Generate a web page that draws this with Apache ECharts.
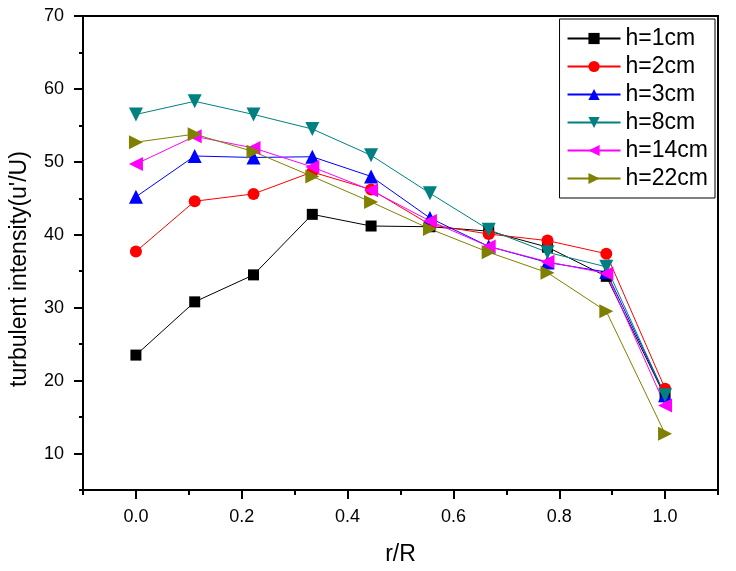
<!DOCTYPE html>
<html>
<head>
<meta charset="utf-8">
<script src="https://cdn.jsdelivr.net/npm/echarts@6/dist/echarts.min.js"></script>
<style>html,body{margin:0;padding:0;background:#fff;}#c{width:736px;height:571px;}</style>
</head>
<body>
<div id="c"></div>
<script>
var rR = [0, 0.1111, 0.2222, 0.3333, 0.4444, 0.5556, 0.6667, 0.7778, 0.8889, 1.0];
var h1 = [23.5, 30.8, 34.5, 42.8, 41.2, 41.1, 40.5, 38.3, 34.3, 17.8];
var h2 = [37.7, 44.6, 45.6, 48.6, 46.2, 41.4, 40.1, 39.2, 37.4, 18.9];
var h3 = [45.2, 50.8, 50.6, 50.7, 48.0, 42.3, 38.4, 36.2, 34.9, 18.0];
var h8 = [56.5, 58.3, 56.5, 54.5, 50.9, 45.7, 40.7, 37.6, 35.6, 18.0];
var h14 = [49.7, 53.5, 51.9, 49.3, 46.1, 41.9, 38.4, 36.3, 34.7, 16.6];
var h22 = [52.7, 53.8, 51.4, 48.0, 44.5, 40.8, 37.6, 34.8, 29.5, 12.7];
var seriesNames = ['h=1cm', 'h=2cm', 'h=3cm', 'h=8cm', 'h=14cm', 'h=22cm'];
var xMajorTicks = [0.0, 0.2, 0.4, 0.6, 0.8, 1.0];
var xMinorTicks = [-0.1, 0.1, 0.3, 0.5, 0.7, 0.9, 1.1];
var yMajorTicks = [10, 20, 30, 40, 50, 60, 70];
var yMinorTicks = [5, 15, 25, 35, 45, 55, 65];

var FONT = '"Liberation Sans", Arial, sans-serif';
var colors = ['#000000', '#ff0000', '#0000ff', '#008080', '#ff00ff', '#808000'];
var symbols = ['rect', 'circle', 'triangle', 'triangle', 'triangle', 'triangle'];
var rotations = [0, 0, 0, 180, 90, -90];
var sizes = [11, 12, 14, 14, 14, 14];
var allData = [h1, h2, h3, h8, h14, h22];

function pairs(ys) { return rR.map(function (x, i) { return [x, ys[i]]; }); }

var chart = echarts.init(document.getElementById('c'), null, {renderer: 'canvas'});
var axisLineStyle = {color: '#000', width: 2};
chart.setOption({
  animation: false,
  backgroundColor: '#fff',
  grid: {left: 80, right: 18, top: 16, bottom: 77, show: true, borderColor: '#000', borderWidth: 2, containLabel: false},
  legend: {
    orient: 'vertical', right: 21, top: 19,
    itemWidth: 53, itemHeight: 14, itemGap: 5,
    padding: [8, 7, 8, 7],
    borderColor: '#000', borderWidth: 1, backgroundColor: '#fff',
    textStyle: {fontFamily: FONT, fontSize: 23, color: '#000'},
    data: seriesNames
  },
  xAxis: [{
    type: 'value', min: -0.1, max: 1.1,
    name: 'r/R', nameLocation: 'middle', nameGap: 53,
    nameTextStyle: {fontFamily: FONT, fontSize: 23, color: '#000'},
    axisLine: {show: true, onZero: false, lineStyle: axisLineStyle},
    axisTick: {show: true, inside: false, length: 9, lineStyle: {color: '#000', width: 2}, customValues: xMajorTicks},
    axisLabel: {show: true, margin: 18, fontFamily: FONT, fontSize: 18, color: '#000', customValues: xMajorTicks,
      formatter: function (v) { return Number(v).toFixed(1); }},
    splitLine: {show: false}
  }, {
    type: 'value', min: -0.1, max: 1.1, position: 'bottom',
    axisLine: {show: false, onZero: false},
    axisTick: {show: true, length: 5, lineStyle: {color: '#000', width: 2}, customValues: xMinorTicks},
    axisLabel: {show: false}, splitLine: {show: false}
  }],
  yAxis: [{
    type: 'value', min: 5, max: 70,
    name: "turbulent intensity(u'/U)", nameLocation: 'middle', nameGap: 52,
    nameTextStyle: {fontFamily: FONT, fontSize: 23, color: '#000', padding: [0, 32, 0, 0]},
    axisLine: {show: true, onZero: false, lineStyle: axisLineStyle},
    axisTick: {show: true, inside: false, length: 9, lineStyle: {color: '#000', width: 2}, customValues: yMajorTicks},
    axisLabel: {show: true, margin: 19, fontFamily: FONT, fontSize: 18, color: '#000', customValues: yMajorTicks},
    splitLine: {show: false}
  }, {
    type: 'value', min: 5, max: 70, position: 'left',
    axisLine: {show: false, onZero: false},
    axisTick: {show: true, length: 4, lineStyle: {color: '#000', width: 2}, customValues: yMinorTicks},
    axisLabel: {show: false}, splitLine: {show: false}
  }],
  series: seriesNames.map(function (name, i) {
    return {
      name: name, type: 'line', data: pairs(allData[i]),
      xAxisIndex: 0, yAxisIndex: 0,
      symbol: symbols[i], symbolSize: sizes[i], symbolRotate: rotations[i],
      showAllSymbol: true,
      lineStyle: {color: colors[i], width: 1},
      itemStyle: {color: colors[i], borderWidth: 0},
      emphasis: {disabled: true}
    };
  })
});
</script>
</body>
</html>
